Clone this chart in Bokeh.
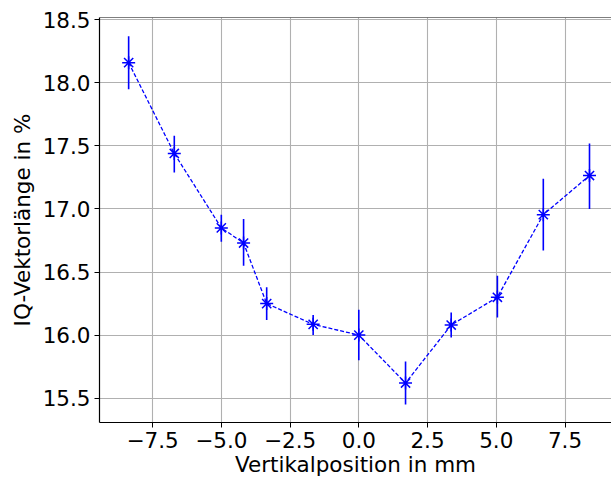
from bokeh.plotting import figure
from bokeh.models import FixedTicker, Span, ColumnDataSource
from bokeh.embed import file_html
from bokeh.resources import INLINE

# Data
position_mm = [-8.37, -6.71, -5.0, -4.19, -3.35, -1.66, 0.0, 1.70, 3.36, 5.04, 6.71, 8.39]
iq_length = [18.16, 17.44, 16.85, 16.73, 16.25, 16.085, 16.0, 15.62, 16.08, 16.30, 16.955, 17.265]
err_upper = [18.37, 17.58, 16.955, 16.92, 16.38, 16.16, 16.20, 15.79, 16.18, 16.47, 17.24, 17.52]
err_lower = [17.95, 17.29, 16.74, 16.55, 16.12, 16.00, 15.80, 15.45, 15.98, 16.14, 16.67, 17.00]

x_ticks = [-7.5, -5.0, -2.5, 0.0, 2.5, 5.0, 7.5]
x_tick_labels = ["\u22127.5", "\u22125.0", "\u22122.5", "0.0", "2.5", "5.0", "7.5"]
y_ticks = [15.5, 16.0, 16.5, 17.0, 17.5, 18.0, 18.5]
y_tick_labels = ["15.5", "16.0", "16.5", "17.0", "17.5", "18.0", "18.5"]

FONT = "DejaVu Sans"
FS = "21.5px"
BLUE = "#0000ff"

p = figure(width=611, height=479, output_backend="svg", toolbar_location=None,
           x_range=(-9.43, 9.19), y_range=(15.307, 18.518),
           min_border_left=99, min_border_right=0, min_border_top=17, min_border_bottom=57)

p.outline_line_color = None
p.background_fill_color = "white"
p.border_fill_color = "white"

# top spine
p.add_layout(Span(location=18.518, dimension="width", line_color="black", line_width=1.2))

for ax in (p.xaxis[0], p.yaxis[0]):
    ax.axis_line_color = "black"
    ax.axis_line_width = 1.2
    ax.major_tick_out = 5
    ax.major_tick_in = 0
    ax.major_tick_line_width = 1
    ax.minor_tick_out = 0
    ax.minor_tick_in = 0
    ax.major_label_text_font = FONT
    ax.major_label_text_font_size = FS
    ax.major_label_text_color = "black"
    ax.axis_label_text_font = FONT
    ax.axis_label_text_font_size = FS
    ax.axis_label_text_font_style = "normal"
    ax.axis_label_text_color = "black"

p.xaxis.ticker = FixedTicker(ticks=x_ticks)
p.xaxis.major_label_overrides = {t: l for t, l in zip(x_ticks, x_tick_labels)}
p.yaxis.ticker = FixedTicker(ticks=y_ticks)
p.yaxis.major_label_overrides = {t: l for t, l in zip(y_ticks, y_tick_labels)}
p.xaxis.axis_label = "Vertikalposition in mm"
p.yaxis.axis_label = "IQ-Vektorlänge in %"
p.xaxis.major_label_standoff = 4
p.yaxis.major_label_standoff = 4
p.xaxis.axis_label_standoff = 1
p.yaxis.axis_label_standoff = 5

p.xgrid.ticker = FixedTicker(ticks=x_ticks)
p.ygrid.ticker = FixedTicker(ticks=y_ticks)
p.grid.grid_line_color = "#b0b0b0"
p.grid.grid_line_width = 1.1

src = ColumnDataSource(dict(x=position_mm, y=iq_length, lo=err_lower, hi=err_upper))

p.line("x", "y", source=src, line_color=BLUE, line_width=1.3, line_dash="4 2")
p.segment(x0="x", y0="lo", x1="x", y1="hi", source=src, line_color=BLUE, line_width=1.6)
p.scatter("x", "y", source=src, marker="asterisk", size=13, line_color=BLUE, line_width=1.5)

open("out.html", "w").write(file_html(p, INLINE))
